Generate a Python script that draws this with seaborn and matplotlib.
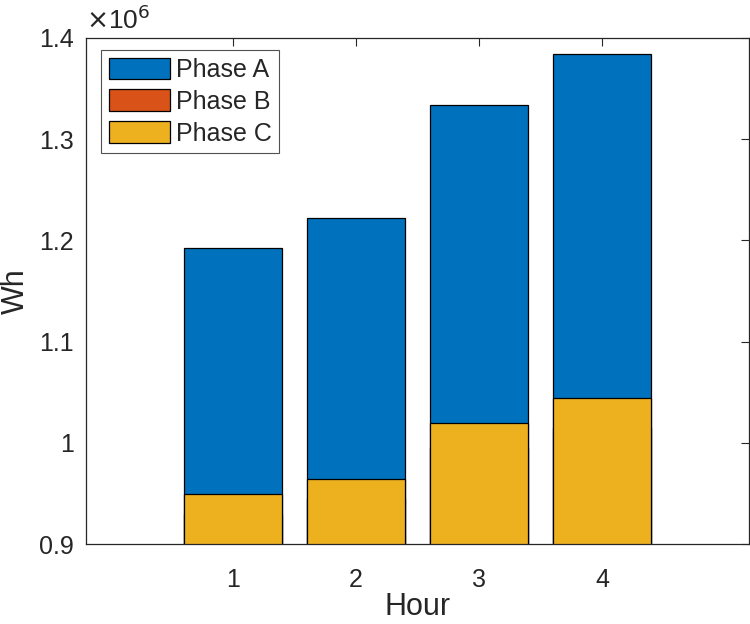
import numpy as np
import pandas as pd
import seaborn as sns
import matplotlib.pyplot as plt
from matplotlib.ticker import FuncFormatter

# energia por hora e por fase (Wh)
hours = [1, 2, 3, 4]
phase_a = [1.1925e6, 1.2225e6, 1.3335e6, 1.3840e6]
phase_b = [0.9300e6, 0.9450e6, 0.9950e6, 1.0150e6]
phase_c = [0.9490e6, 0.9640e6, 1.0195e6, 1.0445e6]
phases = ['Phase A', 'Phase B', 'Phase C']
colors = ['#0072BD', '#D95319', '#EDB120']

df = pd.DataFrame({'hour': hours * 3,
                   'wh': phase_a + phase_b + phase_c,
                   'phase': np.repeat(phases, len(hours))})

sns.set_style('white')
plt.rcParams['font.family'] = ['Liberation Sans', 'DejaVu Sans']

fig = plt.figure(figsize=(7.5, 6.24), dpi=100)
ax = fig.add_axes([0.1147, 0.1282, 0.8840, 0.8110])

# barras sobrepostas: desenhadas uma por cima da outra
for ph, c in zip(phases, colors):
    sub = df[df['phase'] == ph]
    sns.barplot(data=sub, x='hour', y='wh', color=c, width=0.8, native_scale=True,
                edgecolor='black', linewidth=0.9, label=ph, ax=ax, errorbar=None,
                saturation=1)

ax.set_xlim(-0.195, 5.195)
ax.set_ylim(0.9e6, 1.4e6)
ax.set_xticks(hours)
ax.set_yticks([0.9e6, 1.0e6, 1.1e6, 1.2e6, 1.3e6, 1.4e6])
ax.yaxis.set_major_formatter(FuncFormatter(lambda v, p: '%g' % round(v / 1e6, 3)))

axc = '#262626'
for s in ax.spines.values():
    s.set_visible(True)
    s.set_color(axc)
    s.set_linewidth(0.9)
ax.tick_params(direction='in', length=6, width=0.8, color=axc, labelsize=18,
               labelcolor=axc, top=True, right=True, pad=9)
ax.tick_params(axis='x', pad=17)
ax.set_xlabel('Hour', fontsize=22, color=axc, labelpad=0)
ax.set_ylabel('Wh', fontsize=22, color=axc, labelpad=6)
ax.text(0.0, 1.008, r'$\times$10$^{6}$', transform=ax.transAxes, fontsize=19,
        color=axc, ha='left', va='bottom')

leg = ax.legend(loc='upper left', bbox_to_anchor=(0.0226, 0.976), fontsize=18,
                frameon=True, fancybox=False, edgecolor=axc, handlelength=2.45,
                handleheight=0.95, handletextpad=0.25, borderpad=0.3, labelspacing=0.3,
                borderaxespad=0)
leg.get_frame().set_linewidth(0.8)

plt.savefig('out.png', dpi=100)
